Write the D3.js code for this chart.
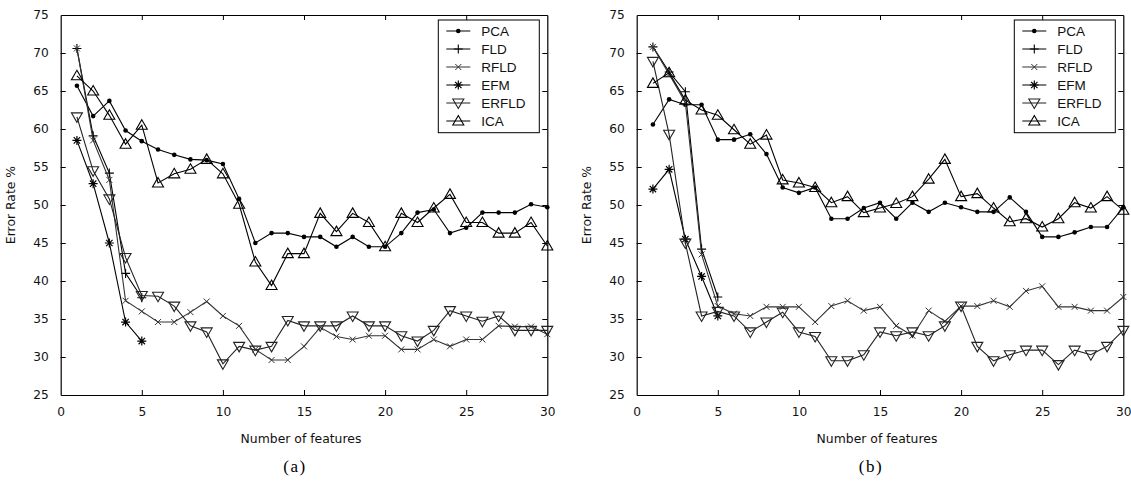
<!DOCTYPE html>
<html>
<head>
<meta charset="utf-8">
<script src="https://cdn.jsdelivr.net/npm/d3@7"></script>
<style>
  html, body { margin: 0; padding: 0; background: #fff; }
  svg { display: block; }
</style>
</head>
<body>
<svg id="chart" width="1131" height="483"></svg>
<script>
// ---------- data ----------
const features = [1,2,3,4,5,6,7,8,9,10,11,12,13,14,15,16,17,18,19,20,21,22,23,24,25,26,27,28,29,30];
const featuresShort = [1,2,3,4,5];
const seriesNames = ["PCA","FLD","RFLD","EFM","ERFLD","ICA"];
const xTicks = [0,5,10,15,20,25,30];
const yTicks = [25,30,35,40,45,50,55,60,65,70,75];
const panelLabels = ["(a)","(b)"];
const xAxisTitle = "Number of features";
const yAxisTitle = "Error Rate %";

// panel (a)
const pcaA   = [65.7,61.7,63.7,59.8,58.4,57.3,56.6,56.0,55.9,55.4,50.8,45.0,46.3,46.3,45.8,45.8,44.5,45.8,44.5,44.5,46.3,49.0,49.4,46.3,47.0,49.0,49.0,49.0,50.1,49.7];
const fldA   = [70.6,59.1,54.2,41.0,37.8];
const rfldA  = [70.6,58.5,53.3,37.4,36.0,34.6,34.6,35.9,37.3,35.4,34.1,31.0,29.6,29.6,31.4,33.9,32.7,32.3,32.8,32.8,31.0,31.0,32.3,31.4,32.3,32.3,34.1,34.0,34.0,33.0];
const efmA   = [58.5,52.8,45.0,34.6,32.1];
const erfldA = [61.6,54.5,50.8,43.1,38.1,38.0,36.7,34.1,33.3,29.1,31.4,30.9,31.4,34.8,34.1,34.1,34.1,35.4,34.1,34.1,32.8,32.1,33.5,36.1,35.4,34.7,35.4,33.5,33.5,33.5];
const icaA   = [67.0,65.0,61.8,58.0,60.5,52.9,54.1,54.7,56.0,54.1,50.1,42.5,39.4,43.6,43.6,48.9,46.5,48.9,47.7,44.5,48.9,47.7,49.6,51.4,47.7,47.7,46.3,46.3,47.7,44.6];

// panel (b)
const pcaB   = [60.6,63.9,63.2,63.2,58.6,58.6,59.3,56.7,52.3,51.6,52.3,48.2,48.2,49.6,50.3,48.2,50.3,49.1,50.3,49.7,49.1,49.1,51.0,49.1,45.8,45.8,46.4,47.1,47.1,49.7];
const fldB   = [70.8,67.5,64.9,44.2,37.9];
const rfldB  = [70.8,67.2,63.5,43.5,36.7,35.7,35.4,36.6,36.6,36.6,34.6,36.7,37.4,36.1,36.6,34.1,32.8,36.1,34.7,36.7,36.7,37.4,36.6,38.7,39.3,36.6,36.6,36.1,36.1,37.9];
const efmB   = [52.1,54.7,45.5,40.6,35.4];
const erfldB = [68.9,59.3,45.0,35.4,36.0,35.4,33.3,34.6,35.9,33.3,32.7,29.5,29.5,30.3,33.3,32.8,33.3,32.8,34.1,36.7,31.4,29.5,30.3,30.9,30.9,29.0,30.9,30.3,31.4,33.5];
const icaB   = [66.0,67.4,63.8,62.5,61.8,59.9,58.0,59.2,53.3,52.9,52.3,50.3,51.1,49.0,49.6,50.2,51.1,53.4,56.0,51.1,51.5,49.6,47.8,48.2,47.1,48.2,50.3,49.6,51.1,49.3];

// ---------- drawing ----------
const svg = d3.select("#chart");
const W = 486.6, H = 380, TOP = 15;
const panels = [
  { left: 60.7, label: panelLabels[0], series: [pcaA, fldA, rfldA, efmA, erfldA, icaA] },
  { left: 636.7, label: panelLabels[1], series: [pcaB, fldB, rfldB, efmB, erfldB, icaB] }
];

const styles = {
  PCA:   { stroke: "#000", marker: "dot" },
  FLD:   { stroke: "#000", marker: "plus" },
  RFLD:  { stroke: "#333", marker: "cross" },
  EFM:   { stroke: "#000", marker: "star" },
  ERFLD: { stroke: "#222", marker: "tridown" },
  ICA:   { stroke: "#000", marker: "triup" }
};

function drawMarker(g, type, color) {
  if (type === "dot") {
    g.append("circle").attr("r", 2.3).attr("fill", color);
  } else if (type === "plus") {
    g.append("path").attr("d", "M-4.5,0H4.5M0,-4.5V4.5").attr("stroke", color).attr("stroke-width", 1.1);
  } else if (type === "cross") {
    g.append("path").attr("d", "M-3,-3L3,3M-3,3L3,-3").attr("stroke", color).attr("stroke-width", 1);
  } else if (type === "star") {
    g.append("path").attr("d", "M-4.5,0H4.5M0,-4.5V4.5M-3.2,-3.2L3.2,3.2M-3.2,3.2L3.2,-3.2").attr("stroke", color).attr("stroke-width", 1.2);
  } else if (type === "triup") {
    g.append("path").attr("d", "M0,-5.5L5.5,4L-5.5,4Z").attr("fill", "none").attr("stroke", color).attr("stroke-width", 1.1);
  } else if (type === "tridown") {
    g.append("path").attr("d", "M0,5.5L5.5,-4L-5.5,-4Z").attr("fill", "none").attr("stroke", color).attr("stroke-width", 1.1);
  }
}

panels.forEach(p => {
  const x = d3.scaleLinear().domain([0, 30]).range([p.left, p.left + W]);
  const y = d3.scaleLinear().domain([25, 75]).range([TOP + H, TOP]);
  const g = svg.append("g");

  // axes (inward ticks, box)
  const axFont = "DejaVu Sans, sans-serif";
  const bottom = g.append("g").attr("transform", `translate(0,${TOP + H})`)
    .call(d3.axisBottom(x).tickValues(xTicks).tickSizeInner(-5).tickSizeOuter(0).tickPadding(12));
  const topAx = g.append("g").attr("transform", `translate(0,${TOP})`)
    .call(d3.axisTop(x).tickValues(xTicks).tickSizeInner(-5).tickSizeOuter(0).tickFormat(""));
  const leftAx = g.append("g").attr("transform", `translate(${p.left},0)`)
    .call(d3.axisLeft(y).tickValues(yTicks).tickSizeInner(-5).tickSizeOuter(0).tickPadding(12));
  const rightAx = g.append("g").attr("transform", `translate(${p.left + W},0)`)
    .call(d3.axisRight(y).tickValues(yTicks).tickSizeInner(-5).tickSizeOuter(0).tickFormat(""));
  [bottom, topAx, leftAx, rightAx].forEach(a => {
    a.select(".domain").attr("stroke", "#000").attr("stroke-width", 1.2);
    a.selectAll(".tick line").attr("stroke", "#000");
    a.selectAll("text").attr("font-family", axFont).attr("font-size", 12.2).attr("fill", "#111");
  });
  bottom.selectAll(".tick").filter(d => d === 0 || d === 30).select("line").remove();
  topAx.selectAll(".tick").filter(d => d === 0 || d === 30).select("line").remove();
  leftAx.selectAll(".tick").filter(d => d === 25 || d === 75).select("line").remove();
  rightAx.selectAll(".tick").filter(d => d === 25 || d === 75).select("line").remove();

  // series
  seriesNames.forEach((name, i) => {
    const vals = p.series[i];
    const xs = vals.length === 5 ? featuresShort : features;
    const pts = vals.map((v, k) => [xs[k], v]);
    const st = styles[name];
    g.append("path")
      .datum(pts)
      .attr("fill", "none")
      .attr("stroke", st.stroke)
      .attr("stroke-width", 1.1)
      .attr("d", d3.line().x(d => x(d[0])).y(d => y(d[1])));
    pts.forEach(d => {
      const mg = g.append("g").attr("transform", `translate(${x(d[0])},${y(d[1])})`);
      drawMarker(mg, st.marker, st.stroke);
    });
  });

  // legend
  const lx = p.left + W - 8 - 101, ly = 20;
  const leg = g.append("g");
  leg.append("rect").attr("x", lx).attr("y", ly).attr("width", 101).attr("height", 112.7)
    .attr("fill", "#fff").attr("stroke", "#000").attr("stroke-width", 1);
  seriesNames.forEach((name, i) => {
    const ry = 31 + i * 18;
    const st = styles[name];
    leg.append("line").attr("x1", lx + 8).attr("x2", lx + 32).attr("y1", ry).attr("y2", ry)
      .attr("stroke", st.stroke).attr("stroke-width", 1);
    drawMarker(leg.append("g").attr("transform", `translate(${lx + 20},${ry})`), st.marker, st.stroke);
    leg.append("text").attr("x", lx + 43).attr("y", ry + 4.8)
      .attr("font-family", "Liberation Sans, Arial, sans-serif").attr("font-size", 13.5)
      .attr("fill", "#111").text(name);
  });

  // axis titles
  g.append("text").attr("x", p.left + W / 2 - 3).attr("y", 443)
    .attr("text-anchor", "middle").attr("font-family", axFont).attr("font-size", 12.4)
    .attr("fill", "#111").text(xAxisTitle);
  g.append("text")
    .attr("transform", `translate(${p.left - 46},${TOP + H / 2}) rotate(-90)`)
    .attr("text-anchor", "middle").attr("font-family", axFont).attr("font-size", 12.4)
    .attr("fill", "#111").text(yAxisTitle);

  // panel label
  g.append("text").attr("x", p.left + W / 2 - 9).attr("y", 472)
    .attr("text-anchor", "middle").attr("font-family", "Liberation Serif, Times New Roman, serif")
    .attr("font-size", 17).attr("letter-spacing", 1.5).attr("fill", "#000").text(p.label);
});
</script>
</body>
</html>
